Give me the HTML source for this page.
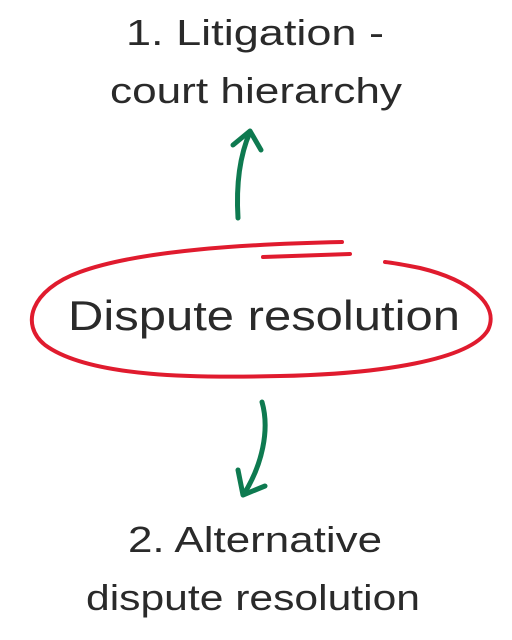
<!DOCTYPE html>
<html><head><meta charset="utf-8"><style>
html,body{margin:0;padding:0;background:#fff;}
svg{display:block;}
text{font-family:"Liberation Sans",sans-serif;fill:#2a2a2a;}
</style></head><body>
<svg width="512" height="640" viewBox="0 0 512 640">
<text x="126" y="45" font-size="36" textLength="258" lengthAdjust="spacingAndGlyphs">1. Litigation -</text>
<text x="110" y="103" font-size="36" textLength="292" lengthAdjust="spacingAndGlyphs">court hierarchy</text>
<g fill="none" stroke="#0e7a50" stroke-width="5" stroke-linecap="round" stroke-linejoin="round">
<path d="M238,218 C236,185 240,155 250,132"/>
<path d="M233,145 L250,131 L261,150"/>
</g>
<g fill="none" stroke="#e01b2e" stroke-width="4" stroke-linecap="round">
<path d="M342,242 C250,244 140,250 80,272 C30,290 20,325 45,345 C90,378 200,378 280,376 C380,374 470,360 488,330 C500,305 470,280 420,268 C405,265 395,263 385,262"/>
<path d="M263,257 L350,254"/>
</g>
<text x="68" y="330" font-size="42" textLength="392" lengthAdjust="spacingAndGlyphs">Dispute resolution</text>
<g fill="none" stroke="#0e7a50" stroke-width="5" stroke-linecap="round" stroke-linejoin="round">
<path d="M262,402 C270,430 262,465 244,494"/>
<path d="M238,470 L243,495 L265,486"/>
</g>
<text x="128" y="552" font-size="36" textLength="254" lengthAdjust="spacingAndGlyphs">2. Alternative</text>
<text x="86" y="610" font-size="36" textLength="334" lengthAdjust="spacingAndGlyphs">dispute resolution</text>
</svg>
</body></html>
